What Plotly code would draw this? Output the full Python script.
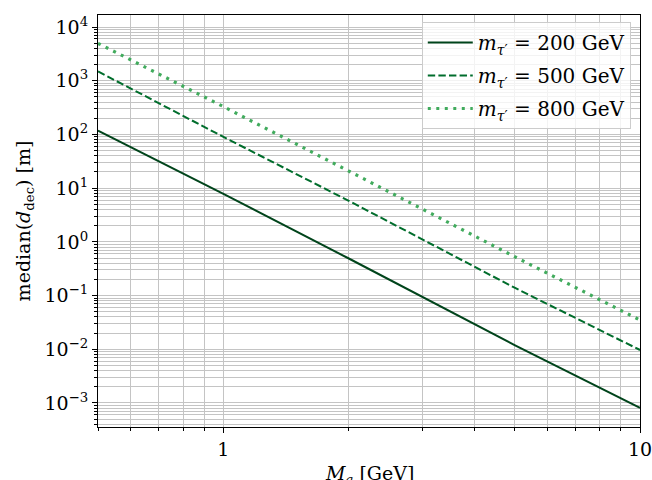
import plotly.graph_objects as go
import numpy as np

# ALP mass values [GeV]
mass_a = [0.5, 1, 2, 5, 10]

# median decay length [m] for each tau' mass
d_200 = [118, 7.8, 0.49, 0.012, 8.1e-4]
d_500 = [1490, 90, 5.8, 0.14, 0.0097]
d_800 = [4970, 330, 20.8, 0.53, 0.035]

labels = ["<i>m</i><sub><i>τ</i>′</sub> = 200 GeV",
          "<i>m</i><sub><i>τ</i>′</sub> = 500 GeV",
          "<i>m</i><sub><i>τ</i>′</sub> = 800 GeV"]
colors = ["#00441b", "#006d2c", "#41ab5d"]

# axis ticks
x_major = [1, 10]
x_major_text = ["1", "10"]
x_minor = [0.5, 0.6, 0.7, 0.8, 0.9] + [k for k in range(2, 10)]
y_exps = list(range(-3, 5))
y_major = [10.0 ** e for e in y_exps]
y_major_text = ["10<sup>%s</sup>" % (str(e).replace("-", "−")) for e in y_exps]
y_minor = [k * 10.0 ** e for e in range(-4, 5) for k in range(2, 10)]

FONT = "DejaVu Serif"
GRID = "#c4c4c4"

fig = go.Figure()
styles = [dict(width=2, dash="solid"),
          dict(width=2, dash="7.4px,3.2px"),
          dict(width=3.2, dash="3px,5.5px")]
for i, (y, name, c, st) in enumerate(zip([d_200, d_500, d_800], labels, colors, styles)):
    fig.add_trace(go.Scatter(x=mass_a, y=y, mode="lines", name=name,
                             legendgroup="g%d" % i,
                             line=dict(color=c, **st)))

axis_common = dict(
    type="log", showline=True, linecolor="black", linewidth=1, mirror=True,
    ticks="outside", ticklen=5, tickwidth=1, tickcolor="black",
    showgrid=True, gridcolor=GRID, gridwidth=1, zeroline=False,
    automargin=False, ticklabeloverflow="allow",
    tickfont=dict(family=FONT, size=19, color="black"),
)

fig.update_xaxes(
    **axis_common,
    range=[np.log10(0.5), 1],
    tickmode="array", tickvals=x_major, ticktext=x_major_text,
    minor=dict(tickmode="array", tickvals=x_minor, ticks="outside",
               ticklen=3, tickwidth=1, tickcolor="black",
               showgrid=True, gridcolor=GRID, gridwidth=1),
)
fig.update_yaxes(
    **axis_common,
    range=[-3.447, 4.224],
    tickmode="array", tickvals=y_major, ticktext=y_major_text,
    minor=dict(tickmode="array", tickvals=y_minor, ticks="outside",
               ticklen=3, tickwidth=1, tickcolor="black",
               showgrid=True, gridcolor=GRID, gridwidth=1),
    title=dict(text="median(<i>d</i><sub>dec</sub>) [m]",
               font=dict(family=FONT, size=19, color="black"), standoff=8),
)

# x-axis title sits low, partly below the page edge
fig.add_annotation(
    text="<i>M</i><sub><i>a</i></sub> [GeV]",
    xref="paper", yref="paper", x=0.5, y=-0.116,
    xanchor="center", yanchor="middle", showarrow=False,
    font=dict(family=FONT, size=19, color="black"),
)

fig.update_layout(
    width=652, height=480,
    margin=dict(l=98, r=12, t=15, b=53),
    paper_bgcolor="white", plot_bgcolor="white",
    font=dict(family=FONT, size=19, color="black"),
    showlegend=True,
    legend=dict(x=0.983, y=0.983, xanchor="right", yanchor="top",
                bgcolor="rgba(255,255,255,0.8)", bordercolor="#cccccc",
                borderwidth=1, itemwidth=45, tracegroupgap=4,
                font=dict(family=FONT, size=20, color="black")),
)

fig.write_html("out.html")
